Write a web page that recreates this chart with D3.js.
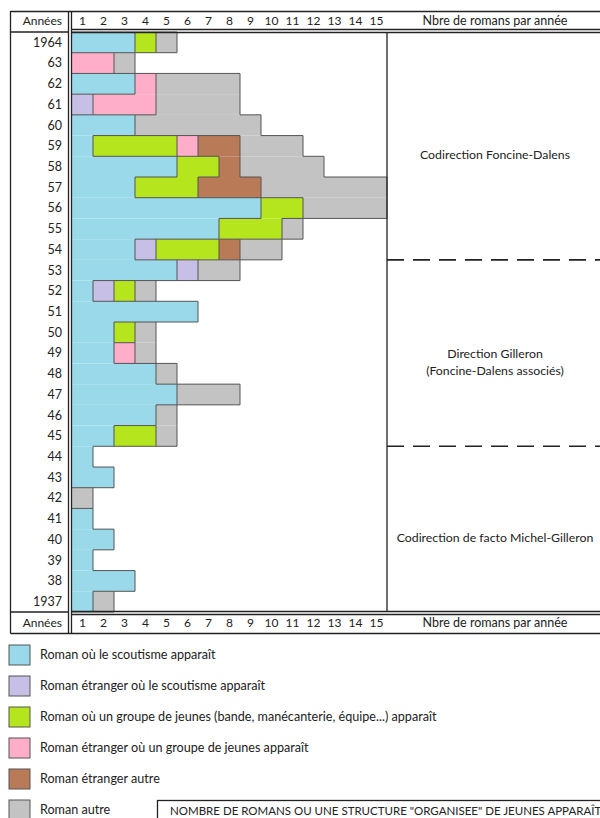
<!DOCTYPE html>
<meta charset="utf-8">
<script src="https://d3js.org/d3.v7.min.js"></script>
<style>
body { margin: 0; background: #fff; }
text { font-family: Lato, "Open Sans", sans-serif; fill: #222; }
</style>
<body>
<script>

// rows from top (1964) to bottom (1937)
var years = [1964, 1963, 1962, 1961, 1960, 1959, 1958, 1957, 1956, 1955, 1954, 1953, 1952, 1951,
             1950, 1949, 1948, 1947, 1946, 1945, 1944, 1943, 1942, 1941, 1940, 1939, 1938, 1937];
var yearLabels = ["1964", "63", "62", "61", "60", "59", "58", "57", "56", "55", "54", "53", "52", "51",
                  "50", "49", "48", "47", "46", "45", "44", "43", "42", "41", "40", "39", "38", "1937"];

var categories = ["scout", "foreignScout", "group", "foreignGroup", "foreignOther", "other"];
var catLabels = [
    "Roman où le scoutisme apparaît",
    "Roman étranger où le scoutisme apparaît",
    "Roman où un groupe de jeunes (bande, manécanterie, équipe...) apparaît",
    "Roman étranger où un groupe de jeunes apparaît",
    "Roman étranger autre",
    "Roman autre"
];
var catColors = ["#99d9ea", "#c8bfe7", "#b5e61d", "#ffaec9", "#b97a57", "#c3c3c3"];

// number of novels per year, same order as years
var scout        = [3, 0, 3, 0, 3, 1, 5, 3, 9, 7, 3, 5, 1, 6, 2, 2, 4, 5, 4, 2, 1, 2, 0, 1, 2, 1, 3, 1];
var foreignScout = [0, 0, 0, 1, 0, 0, 0, 0, 0, 0, 1, 1, 1, 0, 0, 0, 0, 0, 0, 0, 0, 0, 0, 0, 0, 0, 0, 0];
var group        = [1, 0, 0, 0, 0, 4, 2, 3, 2, 3, 3, 0, 1, 0, 1, 0, 0, 0, 0, 2, 0, 0, 0, 0, 0, 0, 0, 0];
var foreignGroup = [0, 2, 1, 3, 0, 1, 0, 0, 0, 0, 0, 0, 0, 0, 0, 1, 0, 0, 0, 0, 0, 0, 0, 0, 0, 0, 0, 0];
var foreignOther = [0, 0, 0, 0, 0, 2, 1, 3, 0, 0, 1, 0, 0, 0, 0, 0, 0, 0, 0, 0, 0, 0, 0, 0, 0, 0, 0, 0];
var other        = [1, 1, 4, 4, 6, 3, 4, 6, 4, 1, 2, 2, 1, 0, 1, 1, 1, 3, 1, 1, 0, 0, 1, 0, 0, 0, 0, 1];

var ticks = d3.range(1, 16);

var periodLines = [["Codirection Foncine-Dalens"],
                   ["Direction Gilleron", "(Foncine-Dalens associés)"],
                   ["Codirection de facto Michel-Gilleron"]];
var periodFirst = [1964, 1953, 1944];
var periodLast  = [1954, 1945, 1937];

var boxText = "NOMBRE DE ROMANS OU UNE STRUCTURE \"ORGANISEE\" DE JEUNES APPARAÎT";

var width = 600, height = 818;

var svg = d3.select("body").append("svg")
    .attr("width", width)
    .attr("height", height);

var x = d3.scaleLinear().domain([0, 15]).range([72, 387]);
var y = d3.scaleBand().domain(years).range([32, 612]);

var rows = years.map(function(yr, i) {
    var o = { year: yr };
    var all = [scout, foreignScout, group, foreignGroup, foreignOther, other];
    categories.forEach(function(c, j) { o[c] = all[j][i]; });
    return o;
});

var stacked = d3.stack().keys(categories)(rows);

// bars (no stroke, borders are drawn after)
var layers = svg.append("g").selectAll("g")
    .data(stacked)
    .enter().append("g")
    .attr("fill", function(d, i) { return catColors[i]; });

layers.selectAll("rect")
    .data(function(d) { return d.filter(function(p) { return p[1] > p[0]; }); })
    .enter().append("rect")
    .attr("x", function(d) { return x(d[0]); })
    .attr("y", function(d) { return y(d.data.year); })
    .attr("width", function(d) { return x(d[1]) - x(d[0]); })
    .attr("height", y.bandwidth());

// grid of categories per unit, to draw borders only where colour changes
var grid = years.map(function(yr, i) {
    var r = [];
    for (var u = 0; u < 15; u++) {
        var c = -1;
        stacked.forEach(function(s, k) { if (s[i][0] <= u && s[i][1] > u) c = k; });
        r.push(c);
    }
    return r;
});

var edges = "";
for (var i = 0; i < years.length; i++) {
    var y0 = y(years[i]), y1 = y0 + y.bandwidth();
    for (var u = 0; u < 15; u++) {
        var c = grid[i][u];
        var right = u < 14 ? grid[i][u + 1] : -1;
        if (c != right) edges += "M" + x(u + 1) + "," + y0 + "V" + y1;
        var below = i < years.length - 1 ? grid[i + 1][u] : -1;
        if (c != below) edges += "M" + x(u) + "," + y1 + "H" + x(u + 1);
        if (i == 0 && c != -1) edges += "M" + x(u) + "," + y0 + "H" + x(u + 1);
    }
}
svg.append("path")
    .attr("d", edges)
    .attr("fill", "none")
    .attr("stroke", "#555")
    .attr("stroke-width", 1);

// table frame
var frame = svg.append("g").attr("stroke", "#222").attr("stroke-width", 1.3);
function line(x1, y1, x2, y2) {
    return frame.append("line").attr("x1", x1).attr("y1", y1).attr("x2", x2).attr("y2", y2);
}
line(10.5, 11.5, 600, 11.5);
line(10.5, 11, 10.5, 633.5);
line(68.5, 11, 68.5, 633.5);
line(71.5, 11, 71.5, 633.5);
line(10.5, 32, 68.5, 32);
line(71.5, 29.5, 600, 29.5);
line(71.5, 32.5, 600, 32.5);
line(10.5, 612, 68.5, 612);
line(71.5, 611.5, 600, 611.5);
line(71.5, 614.5, 600, 614.5);
line(10.5, 633.5, 600, 633.5);
line(x(15), 32.5, x(15), 611.5);

// header and footer texts
[21, 623].forEach(function(ty) {
    svg.append("text")
        .attr("x", 62).attr("y", ty).attr("dy", "0.35em")
        .attr("text-anchor", "end").attr("font-size", 12)
        .text("Années");
    svg.append("g").selectAll("text")
        .data(ticks)
        .enter().append("text")
        .attr("x", function(d) { return x(d - 0.5); })
        .attr("y", ty).attr("dy", "0.35em")
        .attr("text-anchor", "middle").attr("font-size", 12)
        .text(function(d) { return d; });
    svg.append("text")
        .attr("x", 495).attr("y", ty).attr("dy", "0.35em")
        .attr("text-anchor", "middle").attr("font-size", 12.5)
        .text("Nbre de romans par année");
});

// year labels
svg.append("g").selectAll("text")
    .data(years)
    .enter().append("text")
    .attr("x", 62)
    .attr("y", function(d) { return y(d) + y.bandwidth() / 2; })
    .attr("dy", "0.35em")
    .attr("text-anchor", "end").attr("font-size", 12.5)
    .text(function(d, i) { return yearLabels[i]; });

// periods on the right
periodLines.forEach(function(lines, k) {
    var top = y(periodFirst[k]), bot = y(periodLast[k]) + y.bandwidth();
    var mid = (top + bot) / 2 + 9;
    lines.forEach(function(t, j) {
        svg.append("text")
            .attr("x", 495)
            .attr("y", mid + (j - (lines.length - 1) / 2) * 17)
            .attr("dy", "0.35em")
            .attr("text-anchor", "middle").attr("font-size", 12.3)
            .text(t);
    });
    if (k < periodLines.length - 1) {
        svg.append("line")
            .attr("x1", x(15)).attr("x2", 600)
            .attr("y1", bot).attr("y2", bot)
            .attr("stroke", "#222").attr("stroke-width", 1.6)
            .attr("stroke-dasharray", "17,9");
    }
});

// legend
var legend = svg.append("g").selectAll("g")
    .data(categories)
    .enter().append("g")
    .attr("transform", function(d, i) { return "translate(9," + (645 + i * 31) + ")"; });

legend.append("rect")
    .attr("width", 21).attr("height", 20)
    .attr("fill", function(d, i) { return catColors[i]; })
    .attr("stroke", "#555").attr("stroke-width", 1);

legend.append("text")
    .attr("x", 31).attr("y", 10).attr("dy", "0.35em")
    .attr("font-size", 12.6)
    .text(function(d, i) { return catLabels[i]; });

svg.append("rect")
    .attr("x", 157.5).attr("y", 800.5)
    .attr("width", 460).attr("height", 30)
    .attr("fill", "none").attr("stroke", "#222").attr("stroke-width", 1.3);

svg.append("text")
    .attr("x", 170).attr("y", 811).attr("dy", "0.35em")
    .attr("font-size", 11.5)
    .text(boxText);

</script>
</body>
